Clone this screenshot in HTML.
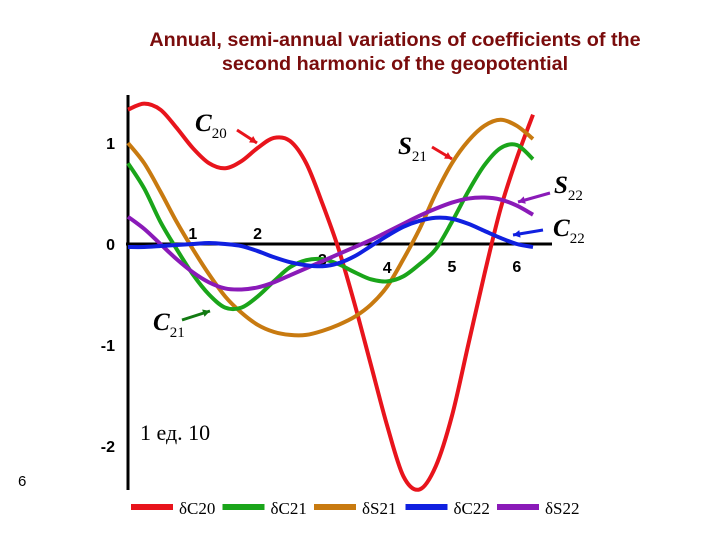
<!DOCTYPE html>
<html><head><meta charset="utf-8"><style>
body{margin:0;background:#fff;width:720px;height:540px;overflow:hidden;position:relative;font-family:"Liberation Sans",sans-serif}
.t{position:absolute;left:45px;width:700px;text-align:center;color:#7a0c0c;font-size:19.8px;font-weight:bold;line-height:24px}
</style></head><body>
<div class="t" style="top:28px">Annual, semi-annual variations of coefficients of the<br>second harmonic of the geopotential</div>
<svg id="c" width="720" height="540" style="position:absolute;left:0;top:0"></svg>
<script>
const xs=[0,0.25,0.5,0.75,1,1.25,1.5,1.75,2,2.25,2.5,2.75,3,3.25,3.5,3.75,4,4.25,4.5,4.75,5,5.25,5.5,5.75,6,6.25];
const c20=[1.33,1.39,1.33,1.15,0.95,0.8,0.75,0.82,0.95,1.05,1.02,0.8,0.4,-0.05,-0.6,-1.2,-1.8,-2.3,-2.43,-2.2,-1.7,-1.0,-0.3,0.35,0.85,1.28];
const c21=[0.8,0.55,0.22,-0.05,-0.3,-0.5,-0.63,-0.63,-0.52,-0.37,-0.23,-0.16,-0.15,-0.2,-0.28,-0.35,-0.37,-0.32,-0.2,-0.05,0.22,0.52,0.78,0.95,0.98,0.84];
const s21=[1.0,0.8,0.52,0.22,-0.05,-0.3,-0.52,-0.68,-0.8,-0.87,-0.9,-0.9,-0.86,-0.8,-0.72,-0.6,-0.42,-0.15,0.15,0.5,0.8,1.02,1.17,1.23,1.17,1.04];
const c22=[-0.03,-0.03,-0.02,-0.01,0,0.01,0,-0.02,-0.07,-0.13,-0.18,-0.21,-0.22,-0.19,-0.12,-0.02,0.08,0.17,0.23,0.26,0.25,0.2,0.13,0.06,0,-0.03];
const s22=[0.27,0.15,0,-0.15,-0.28,-0.38,-0.44,-0.45,-0.43,-0.38,-0.31,-0.24,-0.17,-0.1,-0.03,0.04,0.12,0.2,0.28,0.35,0.41,0.45,0.46,0.44,0.38,0.29];
const yTicks=[1,0,-1,-2];
const xTicks=[1,2,3,4,5,6];
const legendLabels=["δC20","δC21","δS21","δC22","δS22"];
const NS="http://www.w3.org/2000/svg";
const svg=document.getElementById('c');
const X=v=>128+v*64.8, Y=v=>244-v*101;
function mk(t,a,p){const e=document.createElementNS(NS,t);for(const k in a)e.setAttribute(k,a[k]);(p||svg).appendChild(e);return e;}
let ax=mk('line',{x1:128,y1:95,x2:128,y2:490,stroke:'#000','stroke-width':3});


ax=mk('line',{x1:126,y1:244,x2:552,y2:244,stroke:'#000','stroke-width':3});


yTicks.forEach(v=>{const t=mk('text',{x:115,y:Y(v)+6,'text-anchor':'end','font-size':16,'font-weight':'bold','font-family':'Liberation Sans'});t.textContent=v;

});
const xoff={1:[0,-5],2:[0,-5],3:[0,21],4:[0,29],5:[0,28],6:[0,28]};
xTicks.forEach(v=>{const t=mk('text',{x:X(v),y:244+xoff[v][1],'text-anchor':'middle','font-size':16,'font-weight':'bold','font-family':'Liberation Sans'});t.textContent=v;

});
const series=[[c20,'#e8141c','series-c20'],[s21,'#c87a10','series-s21'],[c21,'#1aa51a','series-c21'],[s22,'#8a1ab8','series-s22'],[c22,'#1020e0','series-c22']];
function path(a){let d='M'+X(xs[0])+','+Y(a[0]);for(let i=0;i<a.length-1;i++){const p0=i>0?i-1:i,p3=i+2<a.length?i+2:i+1;
const c1x=X(xs[i])+(X(xs[i+1])-X(xs[p0]))/6,c1y=Y(a[i])+(Y(a[i+1])-Y(a[p0]))/6,c2x=X(xs[i+1])-(X(xs[p3])-X(xs[i]))/6,c2y=Y(a[i+1])-(Y(a[p3])-Y(a[i]))/6;
d+=`C${c1x},${c1y} ${c2x},${c2y} ${X(xs[i+1])},${Y(a[i+1])}`;}return d;}
series.forEach(s=>{const p=mk('path',{d:path(s[0]),fill:'none',stroke:s[1],'stroke-width':4});

});
const lc=['#e8141c','#1aa51a','#c87a10','#1020e0','#8a1ab8'];
legendLabels.forEach((l,i)=>{const x0=131+i*91.5;const g=mk('g',{});


mk('line',{x1:x0,y1:507,x2:x0+42,y2:507,stroke:lc[i],'stroke-width':6},g);
const t=mk('text',{x:x0+48,y:514,'font-size':17,'font-family':'Liberation Serif'},g);t.textContent=l;});
function lab(txt,sub,x,y){const t=mk('text',{x:x,y:y,'font-size':25,'font-style':'italic','font-weight':'bold','font-family':'Liberation Serif'});t.textContent=txt;
const s=mk('tspan',{dy:7,'font-size':15,'font-style':'normal','font-weight':'normal'},t);s.textContent=sub;

}
lab('C','20',195,131);lab('S','21',398,154);lab('S','22',554,193);lab('C','22',553,236);lab('C','21',153,330);
function arr(x1,y1,x2,y2,c){const l=mk('line',{x1,y1,x2,y2,stroke:c,'stroke-width':3});


const a=Math.atan2(y2-y1,x2-x1),h=8;mk('polygon',{points:`${x2},${y2} ${x2-h*Math.cos(a-0.5)},${y2-h*Math.sin(a-0.5)} ${x2-h*Math.cos(a+0.5)},${y2-h*Math.sin(a+0.5)}`,fill:c});}
arr(237,130,257,143,'#e8141c');arr(432,147,452,159,'#e8141c');arr(550,193,518,202,'#8a1ab8');arr(543,230,513,235,'#1020e0');arr(182,320,210,311,'#127a12');
const u=mk('text',{x:140,y:440,'font-size':22,'font-family':'Liberation Serif'});u.textContent='1   ед.   10';


const s6=mk('text',{x:18,y:486,'font-size':15,'font-family':'Liberation Sans'});s6.textContent='6';


</script>
</body></html>
